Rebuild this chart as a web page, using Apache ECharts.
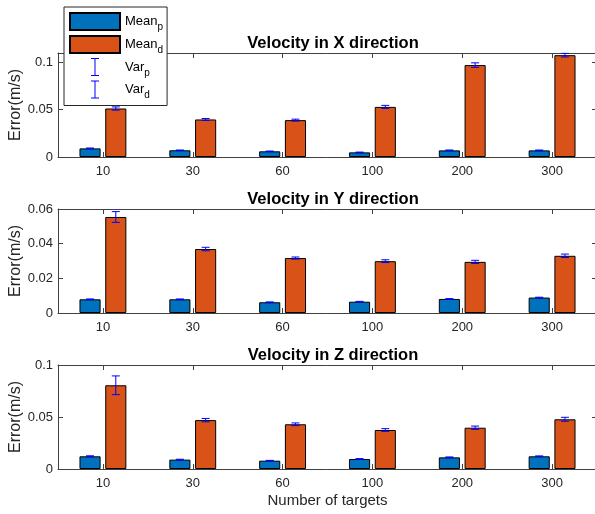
<!DOCTYPE html>
<html><head><meta charset="utf-8">
<script src="https://cdn.jsdelivr.net/npm/echarts@6/dist/echarts.min.js"></script>
<style>html,body{margin:0;padding:0;background:#fff}#c{width:595px;height:514px}</style>
</head><body><div id="c"></div>
<script>
// ---- data ----
const categories = ['10', '30', '60', '100', '200', '300'];
const titles = ['Velocity in X direction', 'Velocity in Y direction', 'Velocity in Z direction'];
const meanP_X = [0.0091, 0.0071, 0.0060, 0.0049, 0.0070, 0.0070];
const meanD_X = [0.0513, 0.0397, 0.0390, 0.0530, 0.0972, 0.1077];
const varP_X  = [0.0004, 0.0003, 0.0003, 0.0003, 0.0004, 0.0004];
const varD_X  = [0.0017, 0.0010, 0.0010, 0.0016, 0.0024, 0.0019];
const meanP_Y = [0.0079, 0.0079, 0.0062, 0.0065, 0.0081, 0.0089];
const meanD_Y = [0.0554, 0.0369, 0.0317, 0.0299, 0.0295, 0.0330];
const varP_Y  = [0.0002, 0.0002, 0.0002, 0.0002, 0.0002, 0.0002];
const varD_Y  = [0.0031, 0.0010, 0.0006, 0.0008, 0.0009, 0.0010];
const meanP_Z = [0.0122, 0.0090, 0.0080, 0.0096, 0.0112, 0.0122];
const meanD_Z = [0.0805, 0.0470, 0.0430, 0.0375, 0.0397, 0.0478];
const varP_Z  = [0.0005, 0.0004, 0.0003, 0.0004, 0.0004, 0.0004];
const varD_Z  = [0.0090, 0.0016, 0.0013, 0.0013, 0.0016, 0.0019];
const yMax = [0.11, 0.06, 0.1];
const yInterval = [0.05, 0.02, 0.05];

const panels = [
  {p: meanP_X, d: meanD_X, vp: varP_X, vd: varD_X},
  {p: meanP_Y, d: meanD_Y, vp: varP_Y, vd: varD_Y},
  {p: meanP_Z, d: meanD_Z, vp: varP_Z, vd: varD_Z}
];

// ---- style ----
const FONT = '"Liberation Sans", Arial, Helvetica, sans-serif';
const AX = '#404040';
const TXT = '#262626';
const BLUE = '#0072BD', ORANGE = '#D95319', ERR = '#0000FF';
const gridTops = [53, 209, 365];
const GRID_LEFT = 58, GRID_W = 539, GRID_H = 104;
const BAR_W_FRAC = 0.235, BAR_GAP = 0.22;
const OFF_FRAC = BAR_W_FRAC * (1 + BAR_GAP) / 2;

function errRender(sign) {
  return function (params, api) {
    const idx = api.value(0), m = api.value(1), v = api.value(2);
    const band = api.size([1, 0])[0];
    const top = api.coord([idx, m + v]);
    const bot = api.coord([idx, m - v]);
    const x = top[0] + sign * band * OFF_FRAC;
    const cw = 4;
    const st = {stroke: ERR, lineWidth: 1};
    return {type: 'group', children: [
      {type: 'line', shape: {x1: x, y1: top[1], x2: x, y2: bot[1]}, style: st},
      {type: 'line', shape: {x1: x - cw, y1: top[1], x2: x + cw, y2: top[1]}, style: st},
      {type: 'line', shape: {x1: x - cw, y1: bot[1], x2: x + cw, y2: bot[1]}, style: st}
    ]};
  };
}

function isMultiple(a, b) { return Math.abs(a / b - Math.round(a / b)) < 1e-9; }

const grid = [], xAxis = [], yAxis = [], series = [], title = [];
panels.forEach((pn, i) => {
  grid.push({left: GRID_LEFT, top: gridTops[i], width: GRID_W, height: GRID_H,
    containLabel: false, outerBoundsMode: 'none'});
  title.push({text: titles[i], left: 328, top: gridTops[i] - 23, textAlign: 'center',
    textStyle: {fontFamily: FONT, fontSize: 16.5, fontWeight: 'bold', color: '#000'}});
  const lineSt = {show: true, onZero: false, lineStyle: {color: AX, width: 1}};
  const tickSt = {show: true, inside: true, length: 5, alignWithLabel: true, lineStyle: {color: AX}};
  xAxis.push({type: 'category', gridIndex: i, data: categories, position: 'bottom',
    axisLine: lineSt, axisTick: tickSt,
    axisLabel: {color: TXT, fontFamily: FONT, fontSize: 13, margin: 8},
    name: i === 2 ? 'Number of targets' : '', nameLocation: 'middle', nameGap: 24, nameMoveOverlap: false,
    nameTextStyle: {color: TXT, fontFamily: FONT, fontSize: 15}});
  xAxis.push({type: 'category', gridIndex: i, data: categories, position: 'top',
    axisLine: lineSt, axisTick: tickSt, axisLabel: {show: false}});
  yAxis.push({type: 'value', gridIndex: i, min: 0, max: yMax[i], interval: yInterval[i], position: 'left',
    axisLine: lineSt, axisTick: {show: true, inside: true, length: 5, lineStyle: {color: AX}},
    splitLine: {show: false},
    axisLabel: {color: TXT, fontFamily: FONT, fontSize: 13, margin: 5, showMaxLabel: isMultiple(yMax[i], yInterval[i])},
    name: 'Error(m/s)', nameLocation: 'middle', nameGap: 34, nameRotate: 90, nameMoveOverlap: false,
    nameTextStyle: {color: TXT, fontFamily: FONT, fontSize: 16}});
  yAxis.push({type: 'value', gridIndex: i, min: 0, max: yMax[i], interval: yInterval[i], position: 'right',
    axisLine: lineSt, axisTick: {show: true, inside: true, length: 5, lineStyle: {color: AX}},
    splitLine: {show: false}, axisLabel: {show: false}});
  const xi = 2 * i, yi = 2 * i;
  series.push({name: 'Mean_p', type: 'bar', xAxisIndex: xi, yAxisIndex: yi, data: pn.p,
    barWidth: (BAR_W_FRAC * 100) + '%', barGap: (BAR_GAP * 100) + '%',
    itemStyle: {color: BLUE, borderColor: '#000', borderWidth: 1}});
  series.push({name: 'Mean_d', type: 'bar', xAxisIndex: xi, yAxisIndex: yi, data: pn.d,
    barWidth: (BAR_W_FRAC * 100) + '%', barGap: (BAR_GAP * 100) + '%',
    itemStyle: {color: ORANGE, borderColor: '#000', borderWidth: 1}});
  series.push({name: 'Var_p', type: 'custom', xAxisIndex: xi, yAxisIndex: yi, z: 5,
    renderItem: errRender(-1), encode: {x: 0, y: 1},
    itemStyle: {color: ERR},
    data: categories.map((c, k) => [k, pn.p[k], pn.vp[k]])});
  series.push({name: 'Var_d', type: 'custom', xAxisIndex: xi, yAxisIndex: yi, z: 5,
    renderItem: errRender(1), encode: {x: 0, y: 1},
    itemStyle: {color: ERR},
    data: categories.map((c, k) => [k, pn.d[k], pn.vd[k]])});
});

const errIcon = 'path://M0,0 M50,17 M21,0 L29,0 M25,0 L25,17 M21,17 L29,17';
const errItemStyle = {color: 'rgba(0,0,0,0)', borderColor: ERR, borderWidth: 1};

const option = {
  animation: false,
  backgroundColor: '#fff',
  title: title,
  grid: grid, xAxis: xAxis, yAxis: yAxis, series: series,
  legend: {
    orient: 'vertical', left: 64, top: 7, padding: [5, 4, 5, 5],
    itemWidth: 50, itemHeight: 17, itemGap: 2.5,
    backgroundColor: '#fff', borderColor: '#262626', borderWidth: 1, borderRadius: 0,
    data: [
      {name: 'Mean_p', icon: 'rect'},
      {name: 'Mean_d', icon: 'rect'},
      {name: 'Var_p', icon: errIcon, itemStyle: errItemStyle},
      {name: 'Var_d', icon: errIcon, itemStyle: errItemStyle}
    ],
    formatter: function (name) {
      const parts = name.split('_');
      return '{m|' + parts[0] + '}{s|' + parts[1] + '}';
    },
    textStyle: {
      fontFamily: FONT, color: '#000',
      rich: {
        m: {fontFamily: FONT, fontSize: 13, lineHeight: 22, color: '#000'},
        s: {fontFamily: FONT, fontSize: 10, lineHeight: 10, verticalAlign: 'bottom', color: '#000'}
      }
    }
  }
};

const chart = echarts.init(document.getElementById('c'), null, {renderer: 'canvas'});
chart.setOption(option);
</script>
</body></html>
